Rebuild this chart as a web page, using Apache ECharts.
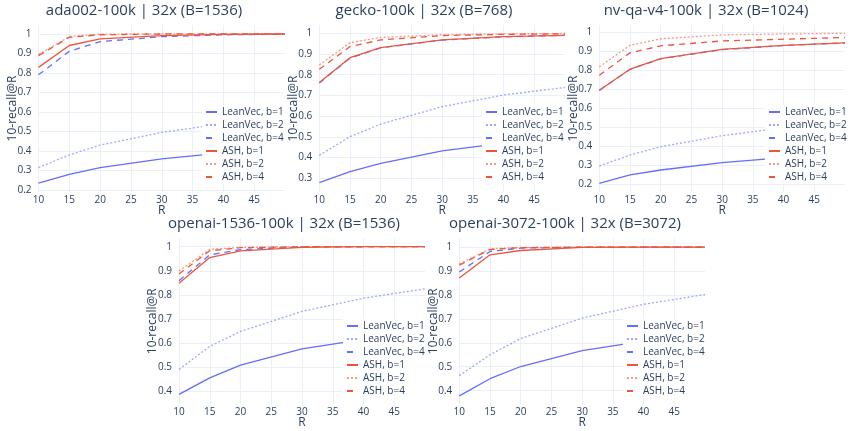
<!DOCTYPE html>
<html lang="en">
<head>
<meta charset="utf-8">
<script src="https://cdn.jsdelivr.net/npm/echarts@6/dist/echarts.min.js"></script>
<style>
  html, body { margin: 0; padding: 0; background: #fff; }
  #chart { width: 852px; height: 431px; }
</style>
</head>
<body>
<div id="chart"></div>
<script>
// R values on the x axis
var R = [10, 15, 20, 30, 40, 50];

var names = ['LeanVec, b=1', 'LeanVec, b=2', 'LeanVec, b=4', 'ASH, b=1', 'ASH, b=2', 'ASH, b=4'];
var titles = ['ada002-100k | 32x (B=1536)', 'gecko-100k | 32x (B=768)', 'nv-qa-v4-100k | 32x (B=1024)',
              'openai-1536-100k | 32x (B=1536)', 'openai-3072-100k | 32x (B=3072)'];

// ada002
var adaLV1 = [0.235, 0.28, 0.315, 0.36, 0.39, 0.41];
var adaLV2 = [0.315, 0.38, 0.43, 0.495, 0.54, 0.57];
var adaLV4 = [0.79, 0.91, 0.96, 0.985, 0.995, 0.998];
var adaASH1 = [0.828, 0.94, 0.974, 0.991, 0.997, 0.999];
var adaASH2 = [0.893, 0.986, 0.998, 1.0, 1.0, 1.0];
var adaASH4 = [0.888, 0.982, 0.995, 0.999, 1.0, 1.0];

// gecko
var geckoLV1 = [0.279, 0.332, 0.372, 0.432, 0.47, 0.5];
var geckoLV2 = [0.411, 0.501, 0.562, 0.646, 0.702, 0.739];
var geckoLV4 = [0.76, 0.88, 0.93, 0.967, 0.983, 0.99];
var geckoASH1 = [0.762, 0.882, 0.931, 0.968, 0.984, 0.99];
var geckoASH2 = [0.847, 0.955, 0.98, 0.993, 0.997, 0.999];
var geckoASH4 = [0.826, 0.936, 0.968, 0.989, 0.995, 0.997];

// nv-qa-v4
var nvLV1 = [0.205, 0.249, 0.275, 0.314, 0.34, 0.36];
var nvLV2 = [0.296, 0.354, 0.398, 0.456, 0.498, 0.53];
var nvLV4 = [0.695, 0.806, 0.862, 0.91, 0.932, 0.945];
var nvASH1 = [0.696, 0.807, 0.863, 0.911, 0.933, 0.946];
var nvASH2 = [0.819, 0.933, 0.967, 0.988, 0.993, 0.996];
var nvASH4 = [0.775, 0.893, 0.93, 0.956, 0.965, 0.974];

// openai-1536
var o1536LV1 = [0.386, 0.455, 0.508, 0.575, 0.615, 0.64];
var o1536LV2 = [0.49, 0.586, 0.648, 0.731, 0.786, 0.825];
var o1536LV4 = [0.859, 0.966, 0.988, 0.999, 1.0, 1.0];
var o1536ASH1 = [0.848, 0.955, 0.983, 0.997, 1.0, 1.0];
var o1536ASH2 = [0.899, 0.989, 0.997, 1.0, 1.0, 1.0];
var o1536ASH4 = [0.887, 0.983, 0.996, 1.0, 1.0, 1.0];

// openai-3072
var o3072LV1 = [0.378, 0.45, 0.501, 0.567, 0.607, 0.63];
var o3072LV2 = [0.463, 0.55, 0.618, 0.703, 0.761, 0.802];
var o3072LV4 = [0.896, 0.982, 0.996, 1.0, 1.0, 1.0];
var o3072ASH1 = [0.871, 0.968, 0.986, 0.999, 1.0, 1.0];
var o3072ASH2 = [0.93, 0.993, 0.999, 1.0, 1.0, 1.0];
var o3072ASH4 = [0.925, 0.99, 0.998, 1.0, 1.0, 1.0];

var panels = [
    [adaLV1, adaLV2, adaLV4, adaASH1, adaASH2, adaASH4],
    [geckoLV1, geckoLV2, geckoLV4, geckoASH1, geckoASH2, geckoASH4],
    [nvLV1, nvLV2, nvLV4, nvASH1, nvASH2, nvASH4],
    [o1536LV1, o1536LV2, o1536LV4, o1536ASH1, o1536ASH2, o1536ASH4],
    [o3072LV1, o3072LV2, o3072LV4, o3072ASH1, o3072ASH2, o3072ASH4]
];

// layout (px)
var grids = [
    {left: 38.5, top: 25, width: 246.5, height: 167},
    {left: 319.3, top: 25, width: 245.7, height: 167},
    {left: 599.3, top: 25, width: 245.7, height: 167},
    {left: 179, top: 238.3, width: 246, height: 166},
    {left: 459.3, top: 238.3, width: 245.7, height: 166}
];
var yRanges = [[0.19, 1.045], [0.234, 1.04], [0.159, 1.04], [0.345, 1.035], [0.343, 1.037]];
var titlePos = [[144, 3], [424, 3], [706, 3], [284, 216], [565, 216]];
var legendPos = [[202, 105], [482, 105], [765, 105], [343, 319], [623, 319]];

var txt = '#2a3f5f';
var grid = '#ebf0f8';
var font = 'Open Sans';
var colors = ['#636efa', '#636efa', '#636efa', '#ef553b', '#ef553b', '#ef553b'];
var dashes = ['solid', [2, 2], [6, 5], 'solid', [2, 2], [6, 5]];
var alphas = [1, 0.6, 1, 1, 0.6, 1];

var option = {
    animation: false,
    backgroundColor: '#fff',
    title: [], grid: [], xAxis: [], yAxis: [], legend: [], series: []
};

panels.forEach(function (p, i) {
    option.title.push({
        text: titles[i], left: titlePos[i][0], top: titlePos[i][1], textAlign: 'center', padding: 0,
        textStyle: {fontSize: 15, fontWeight: 'normal', color: txt, fontFamily: font}
    });
    option.grid.push(grids[i]);
    option.xAxis.push({
        type: 'value', gridIndex: i, min: 10, max: 50, interval: 5,
        name: 'R', nameLocation: 'middle', nameGap: 12.5, nameMoveOverlap: false,
        nameTextStyle: {fontSize: 12, color: txt, fontFamily: font},
        axisLine: {show: false}, axisTick: {show: false},
        axisLabel: {fontSize: 10, color: txt, fontFamily: font, margin: 3, showMaxLabel: false},
        splitLine: {show: true, showMaxLine: false, lineStyle: {color: grid, width: 1}}
    });
    option.yAxis.push({
        type: 'value', gridIndex: i, min: yRanges[i][0], max: yRanges[i][1],
        minInterval: 0.1, maxInterval: 0.1,
        name: '10-recall@R', nameLocation: 'middle', nameGap: 20, nameMoveOverlap: false,
        nameTextStyle: {fontSize: 12, color: txt, fontFamily: font},
        axisLine: {show: false}, axisTick: {show: false},
        axisLabel: {fontSize: 10, color: txt, fontFamily: font, margin: 7, showMinLabel: false, showMaxLabel: false},
        splitLine: {show: true, showMinLine: false, showMaxLine: false, lineStyle: {color: grid, width: 1}}
    });
    option.legend.push({
        orient: 'vertical', left: legendPos[i][0], top: legendPos[i][1],
        data: names, selectedMode: false,
        itemWidth: 11, itemHeight: 2, itemGap: 1,
        itemStyle: {opacity: 0},
        backgroundColor: '#fff', padding: [1, 2, 1, 3],
        textStyle: {fontSize: 10, lineHeight: 12, color: txt, fontFamily: font}
    });
    p.forEach(function (vals, k) {
        option.series.push({
            type: 'line', name: names[k], xAxisIndex: i, yAxisIndex: i,
            data: R.map(function (r, j) { return [r, vals[j]]; }),
            showSymbol: false, symbol: 'none', silent: true,
            lineStyle: {color: colors[k], width: 1.3, type: dashes[k], opacity: alphas[k]},
            itemStyle: {color: colors[k]}
        });
    });
});

var chart = echarts.init(document.getElementById('chart'), null, {renderer: 'canvas'});
chart.setOption(option);
</script>
</body>
</html>
